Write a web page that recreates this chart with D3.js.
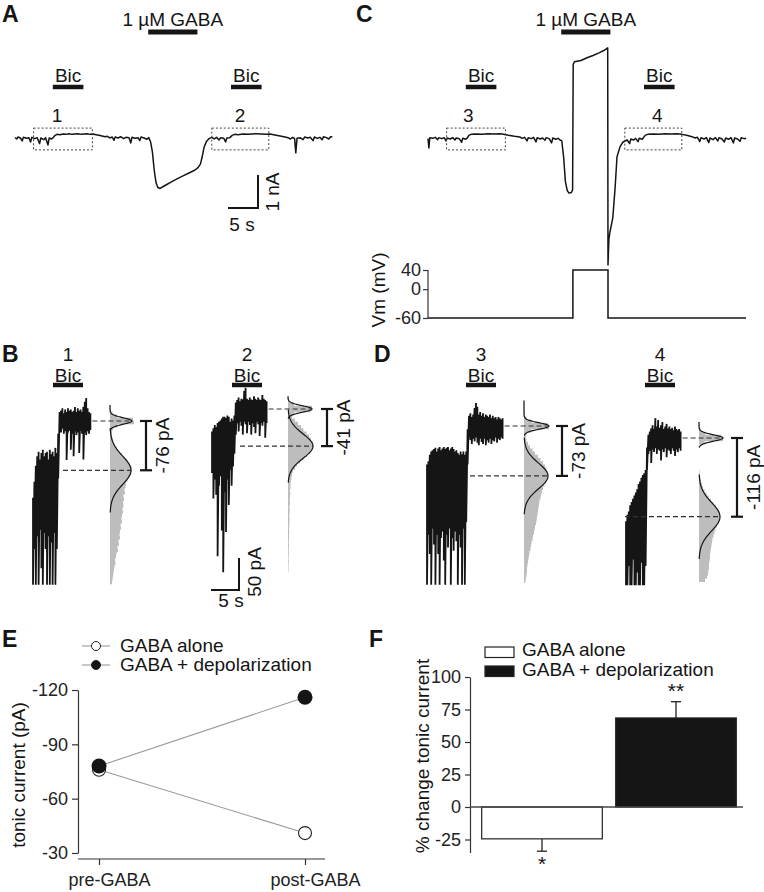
<!DOCTYPE html>
<html>
<head>
<meta charset="utf-8">
<script src="https://cdn.jsdelivr.net/npm/d3@7/dist/d3.min.js"></script>
<style>
  body { margin: 0; background: #fff; }
  svg { font-family: "Liberation Sans", Arial, sans-serif; }
  .axis path, .axis line { stroke: #333; stroke-width: 1.2; }
  .axis text { font-size: 18px; fill: #222; font-family: "Liberation Sans", Arial, sans-serif; }
</style>
</head>
<body>
<svg width="764" height="892"></svg>
<script>
// ---------- data ----------
const stimLabel = "1 µM GABA"
const gabaWindow = [22.2, 30.4]                 // s
const bicWindows = [[6.3, 11.4], [36, 41.1]]    // s
const boxWindows = [[3.1, 12.9], [32.8, 42.3]]  // s
const boxRange = [0.27, -0.39]                  // nA
const epochNames = ['1', '2', '3', '4']
const epochTimes = [[7, 37.5], [6.7, 38.2]]

// A: current (nA) vs time (s), GABA alone
const traceA = [[0,-0.02],[0.3,-0.06],[0.5,0],[0.9,-0.03],[1.2,-0.12],[1.4,-0.01],[1.9,-0.04],[2.3,-0.02],[2.6,-0.15],[2.8,-0.01],
  [3.3,-0.05],[3.7,-0.02],[4.1,-0.2],[4.3,-0.03],[4.8,-0.08],[5.1,-0.02],[5.5,-0.24],[5.7,-0.03],[6.1,-0.06],[6.4,-0.01],
  [6.7,0.05],[7,0.08],[7.5,0.07],[8,0.09],[8.5,0.08],[9,0.1],[9.5,0.08],[10,0.09],[10.5,0.1],[11,0.08],[11.5,0.09],[12,0.1],
  [12.5,0.08],[13,0.09],[13.5,0.07],[14,0.05],[14.5,0.03],[15,0.01],[15.4,0.02],[15.8,-0.03],[16.2,0],[16.5,-0.1],[16.7,0],
  [17.2,-0.03],[17.6,0.01],[18.1,-0.05],[18.5,-0.01],[19,-0.02],[19.3,-0.18],[19.5,-0.01],[20,-0.04],[20.5,-0.02],[20.8,-0.11],
  [21,0],[21.5,-0.03],[22,-0.07],[22.3,-0.02],[22.6,-0.15],[22.9,-0.45],[23.2,-1],[23.5,-1.38],[23.8,-1.53],[24.2,-1.56],
  [24.7,-1.5],[25.3,-1.44],[26,-1.37],[27,-1.27],[28,-1.18],[29,-1.09],[30,-1],[30.5,-0.93],[30.9,-0.82],[31.2,-0.6],
  [31.5,-0.32],[31.9,-0.14],[32.4,-0.04],[32.8,-0.01],[33.2,-0.06],[33.6,-0.01],[34,-0.09],[34.3,-0.02],[34.8,-0.04],
  [35.1,-0.15],[35.3,-0.03],[35.8,-0.02],[36.2,0.05],[36.6,0.08],[37.2,0.07],[38,0.09],[39,0.08],[40,0.1],[41,0.09],[42,0.08],
  [42.5,0.09],[43.3,0.06],[44.2,0.03],[45,0],[45.5,-0.02],[45.9,-0.06],[46.3,-0.01],[46.6,-0.05],[46.8,-0.48],[47,-0.04],
  [47.5,-0.02],[48,-0.08],[48.3,0],[48.8,-0.03],[49.2,-0.01],[49.7,-0.11],[49.9,0],[50.4,-0.04],[50.8,-0.01],[51.2,-0.08],
  [51.4,0.01],[51.9,-0.02],[52.3,-0.06],[52.6,0.01],[52.9,0.01]]

// C: current (nA) vs time (s), GABA + depolarization
const traceC = [[0,-0.05],[0.15,-0.33],[0.3,-0.02],[0.8,-0.04],[1.2,-0.01],[1.6,-0.08],[1.8,-0.02],[2.3,-0.05],[2.7,-0.02],
  [3,-0.12],[3.2,-0.03],[3.7,-0.06],[4.1,-0.02],[4.5,-0.09],[4.7,-0.03],[5.2,-0.05],[5.6,-0.16],[5.8,-0.04],[6.3,-0.07],
  [6.6,-0.02],[6.8,0.05],[7.2,0.08],[8,0.09],[9,0.08],[10,0.1],[11,0.09],[12,0.1],[12.6,0.08],[13.4,0.05],[14.4,0.02],
  [15.3,0],[15.7,-0.04],[16.1,-0.01],[16.5,-0.12],[16.7,-0.02],[17.2,-0.05],[17.6,-0.01],[18,-0.15],[18.2,-0.02],[18.7,-0.06],
  [19.1,-0.03],[19.5,-0.1],[19.7,-0.02],[20.2,-0.05],[20.6,-0.18],[20.8,-0.03],[21.3,-0.07],[21.7,-0.04],[22,-0.09],
  [22.3,-0.12],[22.6,-0.6],[22.9,-1.35],[23.2,-1.62],[23.5,-1.7],[23.9,-1.68],[24.1,-1.6],[24.2,2.2],[24.4,2.28],[25.5,2.32],
  [26.5,2.4],[27.5,2.47],[28.5,2.55],[29.3,2.62],[29.95,2.7],[30,-3.88],[30.15,-3.1],[30.3,-2.9],[30.8,-2.45],[31.2,-1.5],
  [31.5,-0.6],[32,-0.3],[32.5,-0.15],[33.2,-0.09],[33.6,-0.2],[33.8,-0.06],[34.3,-0.09],[34.6,-0.04],[35,-0.14],[35.2,-0.04],
  [35.7,-0.07],[36.2,0.05],[36.6,0.08],[37.5,0.09],[38.5,0.08],[39.5,0.1],[40.5,0.09],[41.5,0.1],[42.3,0.08],[43.1,0.05],
  [44,0.01],[44.5,-0.03],[44.9,-0.01],[45.3,-0.14],[45.5,-0.02],[46,-0.06],[46.4,-0.02],[46.8,-0.17],[47,-0.03],[47.5,-0.08],
  [47.9,-0.02],[48.3,-0.12],[48.5,-0.02],[49,-0.06],[49.4,-0.15],[49.6,-0.03],[50.1,-0.07],[50.5,-0.02],[50.9,-0.18],
  [51.1,-0.03],[51.6,-0.06],[52,-0.13],[52.2,-0.02],[52.7,-0.05],[53,-0.04]]

const vmStep = [[0,-60],[24.15,-60],[24.15,40],[30,40],[30,-60],[53,-60]]
const vmTicks = [40, 0, -60]

// B/D: min/max envelope (pA, relative to Bic level), one pair every 0.25 s
const sampleDt = 0.25
const envB1 = [[-256,-120],[-200,-95],[-256,-70],[-180,-55],[-256,-48],[-170,-60],[-230,-50],[-256,-45],[-175,-55],[-200,-50],
  [-256,-48],[-180,-60],[-256,-45],[-190,-52],[-256,-48],[-175,-55],[-256,-42],[-200,-50],[-90,-20],
  [-14,14],[-18,16],[-12,20],[-20,12],[-16,18],[-61,14],[-18,20],[-15,16],[-45,18],[-20,14],[-55,16],[-16,22],[-22,14],
  [-18,20],[-50,16],[-15,18],[-20,14],[-60,22],[-18,30],[-22,36],[-16,20],[-20,14],[-14,12]]
const envB2 = [[-100,-35],[-140,-30],[-110,-25],[-134,-28],[-230,-22],[-120,-20],[-105,-18],[-190,-15],[-255,-12],[-130,-12],
  [-192,-14],[-110,-10],[-150,-12],[-95,-20],[-120,-15],[-90,-18],[-70,-10],[-40,10],
  [-22,14],[-35,18],[-20,12],[-26,16],[-40,15],[-20,28],[-24,33],[-38,16],[-20,14],[-25,18],[-40,15],[-22,14],[-28,20],
  [-38,16],[-20,14],[-24,18],[-42,15],[-22,14],[-26,22],[-20,16],[-45,14],[-22,12]]
const envD3 = [[-248,-60],[-170,-55],[-200,-45],[-248,-40],[-160,-38],[-185,-36],[-248,-34],[-170,-40],[-200,-35],[-248,-33],
  [-175,-38],[-165,-35],[-210,-33],[-248,-36],[-170,-34],[-190,-33],[-160,-38],[-248,-35],[-175,-33],[-195,-36],[-165,-40],
  [-180,-38],[-248,-42],[-170,-45],[-190,-40],[-248,-44],[-160,-40],[-248,-45],[-150,-40],[-60,-5],
  [-18,16],[-22,20],[-28,14],[-20,18],[-24,28],[-18,36],[-26,30],[-30,18],[-20,22],[-25,16],[-28,20],[-20,14],[-30,18],
  [-22,16],[-26,14],[-20,18],[-28,12],[-22,16],[-24,12],[-18,14],[-26,10],[-20,14],[-22,12],[-18,10],[-20,12]]
const envD4 = [[-230,-130],[-230,-120],[-200,-115],[-230,-105],[-230,-100],[-190,-95],[-230,-90],[-230,-85],[-210,-80],
  [-230,-72],[-230,-68],[-195,-62],[-230,-58],[-230,-55],[-200,-50],[-50,-15],[-25,5],
  [-20,10],[-39,15],[-18,20],[-22,14],[-16,31],[-25,18],[-18,28],[-20,16],[-35,20],[-18,25],[-22,14],[-16,18],[-30,22],
  [-18,15],[-20,18],[-25,14],[-16,16],[-20,12],[-28,18],[-18,14],[-22,12],[-16,14],[-20,10]]

// all-points histograms, 5 pA bins, counts starting at the top bin
const binWidth = 5
const histTop = [22.5, 17.5, 37.5, 22.5]
const histB1 = [2,4,10,28,92,96,30,12,8,8,10,14,20,28,36,48,58,70,78,86,88,84,76,70,64,62,58,60,54,56,52,54,50,52,48,46,
  48,42,44,40,38,40,34,36,30,32,26,24,20,22,18,16,14,12,10,8]
const histB2 = [2,6,24,96,90,24,16,28,40,52,62,74,84,92,98,100,96,88,76,62,48,36,28,20,16,14,12,10,10,8,9,8,7,8,6,7,6,5,
  6,5,5,4,5,4,4,3,4,3,3,3,2,3,2,2,2]
const histD3 = [1,2,2,3,4,10,30,96,100,30,10,8,10,16,24,34,44,56,66,76,84,90,94,96,92,88,82,76,72,68,66,62,60,58,56,54,52,
  50,48,44,42,40,36,34,30,28,26,22,20,18,16,14,12,12,10,8,6]
const histD4 = [2,4,8,24,90,96,22,0,0,0,0,0,0,0,0,2,4,6,8,12,16,22,30,38,48,58,68,76,82,84,82,78,72,66,62,58,54,52,50,48,
  46,44,44,42,40,40,38,36,32,24]

// gaussian fits: [Bic peak, control peak]
const fitMean = [[0,-77],[0,-58],[0,-78],[0,-123]]
const fitSd = [[5,22],[5,19],[5,20],[5,22]]
const fitPeak = [[88,84],[96,100],[100,96],[96,84]]
const tonicLabels = ['-76 pA', '-41 pA', '-73 pA', '-116 pA']

// E
const groupsE = ['pre-GABA', 'post-GABA']
const seriesE = ['GABA alone', 'GABA + depolarization']
const gabaAlone = [-76, -41]
const gabaDepol = [-78, -116]
const ticksE = [-120, -90, -60, -30]

// F
const groupsF = ['GABA alone', 'GABA + depolarization']
const changeF = [-24.5, 68.5]
const semF = [9.5, 12.5]
const starsF = ['*', '**']
const ticksF = [-25, 0, 25, 50, 75, 100]

// ---------- drawing ----------
let svg = d3.select('svg')
svg.append('rect').attr('width', 764).attr('height', 892).attr('fill', '#fff')
const ink = '#151515'
const fs = 19

function txt(x, y, s, o = {}) {
  return svg.append('text').attr('x', x).attr('y', y)
    .attr('text-anchor', o.anchor || 'middle')
    .attr('font-size', o.size || fs)
    .attr('font-weight', o.weight || 'normal')
    .attr('fill', ink).text(s)
}
function vtxt(x, y, s, size) {
  return svg.append('text').attr('transform', `translate(${x},${y}) rotate(-90)`)
    .attr('text-anchor', 'middle').attr('font-size', size || fs).attr('fill', ink).text(s)
}
function seg(x1, y1, x2, y2, w, col) {
  return svg.append('line').attr('x1', x1).attr('y1', y1).attr('x2', x2).attr('y2', y2)
    .attr('stroke', col || ink).attr('stroke-width', w || 1.2)
}

// panel letters
;[['A', 2, 22], ['C', 356, 22], ['B', 2, 362], ['D', 374, 362], ['E', 2, 647], ['F', 369, 647]]
  .forEach(p => txt(p[1], p[2], p[0], { anchor: 'start', size: 23, weight: 'bold' }))

// ----- A and C -----
const yCur = d3.scaleLinear().domain([0, -1]).range([137, 170])
function drawRun(x0, trace, names, times) {
  let x = d3.scaleLinear().domain([0, 53]).range([x0, x0 + 318])
  svg.append('path')
     .attr('d', d3.line().x(d => x(d[0])).y(d => yCur(d[1]))(trace))
     .attr('fill', 'none').attr('stroke', ink).attr('stroke-width', 1.5)
     .attr('stroke-linejoin', 'round')
  seg(x(gabaWindow[0]), 32, x(gabaWindow[1]), 32, 5)
  txt((x(gabaWindow[0]) + x(gabaWindow[1])) / 2, 26, stimLabel)
  bicWindows.forEach(w => {
    seg(x(w[0]), 87, x(w[1]), 87, 4.5)
    txt((x(w[0]) + x(w[1])) / 2, 82, 'Bic')
  })
  boxWindows.forEach((w, i) => {
    svg.append('rect').attr('x', x(w[0])).attr('y', yCur(boxRange[0]))
       .attr('width', x(w[1]) - x(w[0])).attr('height', yCur(boxRange[1]) - yCur(boxRange[0]))
       .attr('fill', 'none').attr('stroke', '#444').attr('stroke-width', 1).attr('stroke-dasharray', '2,2')
    txt(x(times[i]), 122, names[i])
  })
  return x
}
let xA = drawRun(15, traceA, epochNames.slice(0, 2), epochTimes[0])
let xC = drawRun(428, traceC, epochNames.slice(2, 4), epochTimes[1])

// A scale bar: 5 s, 1 nA (corner at 40.5 s)
{
  let cx = xA(40.5), cy = 208
  seg(cx - (xA(5) - xA(0)), cy, cx + 1, cy, 2)
  seg(cx, cy + 1, cx, cy - (yCur(-1) - yCur(0)), 2)
  vtxt(279, 192, '1 nA')
  txt(242, 231, '5 s')
}

// C voltage command
const yVm = d3.scaleLinear().domain([-60, 40]).range([318, 270])
svg.append('path')
   .attr('d', d3.line().x(d => xC(d[0])).y(d => yVm(d[1]))(vmStep))
   .attr('fill', 'none').attr('stroke', ink).attr('stroke-width', 1.5)
svg.append('g').attr('class', 'axis').attr('transform', 'translate(428,0)')
   .call(d3.axisLeft(yVm).tickValues(vmTicks).tickSize(5).tickSizeOuter(0).tickPadding(2).tickFormat(d => String(d)))
   .call(g => g.selectAll('text').attr('font-size', fs))
   .call(g => g.select('.domain').attr('d', `M0,${yVm(40)}V${yVm(-60)}`))
vtxt(385, 290, 'Vm (mV)')

// ----- B and D -----
const envs = [envB1, envB2, envD3, envD4]
const hists = [histB1, histB2, histD3, histD4]
const layoutBD = [
  { x0: 33, y0: 421, hx: 110, bic: 68, lowX: 63, brX: 146 },
  { x0: 212, y0: 409, hx: 288, bic: 247, lowX: 240, brX: 327 },
  { x0: 427, y0: 426, hx: 524, bic: 481, lowX: 470, brX: 562 },
  { x0: 626, y0: 438, hx: 699, bic: 660, lowX: 625, brX: 737 }
]
const hs = d3.scaleLinear().domain([0, 100]).range([0, 25])
const gauss = (v, m, s, p) => p * Math.exp(-((v - m) ** 2) / (2 * s * s))
let scaleB = null

layoutBD.forEach((p, k) => {
  let xs = d3.scaleLinear().domain([0, 5]).range([p.x0, p.x0 + 28])
  let ys = d3.scaleLinear().domain([0, -50]).range([p.y0, p.y0 + 32])
  if (k === 1) scaleB = { xs, ys }

  // histogram as one stepped area
  let bins = hists[k].map((c, i) => [histTop[k] - i * binWidth + binWidth / 2, c])
  bins.push([bins[bins.length - 1][0] - binWidth, hists[k][hists[k].length - 1]])
  svg.append('path')
     .attr('d', d3.area().curve(d3.curveStepBefore)
        .y(d => ys(d[0])).x0(p.hx).x1(d => p.hx + hs(d[1]))(bins))
     .attr('fill', '#bdbdbd')

  // gaussian fits
  fitMean[k].forEach((m, j) => {
    let s = fitSd[k][j]
    let from = j === 0 ? histTop[k] + binWidth / 2 : m + 3 * s
    let to = m - 3 * s
    let pts = d3.range(from, to - 0.01, -(from - to) / 60).concat([to])
    svg.append('path')
       .attr('d', d3.line().x(v => p.hx + hs(gauss(v, m, s, fitPeak[k][j]))).y(v => ys(v))(pts))
       .attr('fill', 'none').attr('stroke', ink).attr('stroke-width', 1.2)
  })

  // trace envelope
  let pts = envs[k].flatMap((d, i) => [[i * sampleDt, d[1]], [i * sampleDt, d[0]]])
  svg.append('path')
     .attr('d', d3.line().x(d => xs(d[0])).y(d => ys(d[1]))(pts))
     .attr('fill', 'none').attr('stroke', ink).attr('stroke-width', 1.8)
     .attr('stroke-linejoin', 'bevel')

  // dashed level lines
  let tEnd = (envs[k].length - 1) * sampleDt
  let m0 = fitMean[k][0], m1 = fitMean[k][1]
  seg(xs(tEnd) + 2, ys(m0), p.hx + hs(fitPeak[k][0]), ys(m0), 1.2, '#333').attr('stroke-dasharray', '5,3')
  seg(p.lowX, ys(m1), p.hx + hs(fitPeak[k][1]), ys(m1), 1.2, '#333').attr('stroke-dasharray', '5,3')

  // bracket + label
  seg(p.brX, ys(m0), p.brX, ys(m1), 2.2)
  seg(p.brX - 6, ys(m0), p.brX + 6, ys(m0), 2.2)
  seg(p.brX - 6, ys(m1), p.brX + 6, ys(m1), 2.2)
  vtxt(p.brX + 23, (ys(m0) + ys(m1)) / 2, tonicLabels[k])

  // Bic bar + epoch number
  seg(p.bic - 15, 385, p.bic + 15, 385, 4.5)
  txt(p.bic, 382, 'Bic')
  txt(p.bic, 361, epochNames[k])
})

// B scale bar: 5 s, 50 pA
{
  let { xs, ys } = scaleB
  let cx = 239, cy = 590
  seg(cx - (xs(5) - xs(0)), cy, cx + 1, cy, 2)
  seg(cx, cy, cx, cy - (ys(-50) - ys(0)), 2)
  vtxt(261, 572, '50 pA')
  txt(231, 607, '5 s')
}

// ----- E -----
const xE = d3.scalePoint().domain(groupsE).range([99, 305])
const yE = d3.scaleLinear().domain([-120, -30]).range([690, 853])
svg.append('g').attr('class', 'axis').attr('transform', 'translate(78,0)')
   .call(d3.axisLeft(yE).tickValues(ticksE).tickSize(6).tickSizeOuter(0).tickPadding(4).tickFormat(d => String(d)))
svg.append('g').attr('class', 'axis').attr('transform', 'translate(0,859)')
   .call(d3.axisBottom(xE).tickSize(6).tickSizeOuter(0).tickPadding(8))
   .call(g => g.select('.domain').attr('d', 'M78,0H325'))
   .call(g => g.selectAll('text').attr('dx', 10).attr('font-size', fs))
vtxt(25, 775, 'tonic current (pA)')

const linE = d3.line().x((d, i) => xE(groupsE[i])).y(d => yE(d))
;[gabaAlone, gabaDepol].forEach(s => {
  svg.append('path').attr('d', linE(s)).attr('fill', 'none').attr('stroke', '#999').attr('stroke-width', 1.1)
})
svg.selectAll('.open').data(gabaAlone).enter().append('circle')
   .attr('cx', (d, i) => xE(groupsE[i])).attr('cy', d => yE(d)).attr('r', 6.5)
   .attr('fill', '#fff').attr('stroke', '#222').attr('stroke-width', 1.1)
svg.selectAll('.filled').data(gabaDepol).enter().append('circle')
   .attr('cx', (d, i) => xE(groupsE[i])).attr('cy', d => yE(d)).attr('r', 7.5).attr('fill', ink)

seriesE.forEach((s, i) => {
  let y = 646 + i * 19
  seg(82, y, 110, y, 1.1, '#999')
  svg.append('circle').attr('cx', 96).attr('cy', y).attr('r', 4.5)
     .attr('fill', i ? ink : '#fff').attr('stroke', '#222').attr('stroke-width', 1)
  txt(120, y + 6, s, { anchor: 'start' })
})

// ----- F -----
const xF = d3.scaleBand().domain(groupsF).range([475, 743]).paddingInner(0.1).paddingOuter(0.05)
const yF = d3.scaleLinear().domain([-35, 100]).range([852.5, 677])
svg.append('g').attr('class', 'axis').attr('transform', 'translate(470,0)')
   .call(d3.axisLeft(yF).tickValues(ticksF).tickSize(5).tickSizeOuter(0).tickPadding(4).tickFormat(d => String(d)))
   .call(g => g.selectAll('text').attr('font-size', fs))
vtxt(429, 756, '% change tonic current')

svg.selectAll('.errF').data(changeF).enter().append('g').each(function (v, i) {
  let g = d3.select(this)
  let cx = xF(groupsF[i]) + xF.bandwidth() / 2
  let tip = v + Math.sign(v) * semF[i]
  g.append('line').attr('x1', cx).attr('x2', cx).attr('y1', yF(v)).attr('y2', yF(tip))
   .attr('stroke', '#222').attr('stroke-width', 1.3)
  g.append('line').attr('x1', cx - 5).attr('x2', cx + 5).attr('y1', yF(tip)).attr('y2', yF(tip))
   .attr('stroke', '#222').attr('stroke-width', 1.3)
})
svg.selectAll('.barF').data(changeF).enter().append('rect')
   .attr('x', (d, i) => xF(groupsF[i])).attr('width', xF.bandwidth())
   .attr('y', d => yF(Math.max(0, d))).attr('height', d => Math.abs(yF(d) - yF(0)))
   .attr('fill', (d, i) => i ? ink : '#fff').attr('stroke', '#222').attr('stroke-width', 1.2)
seg(470, yF(0), 743, yF(0), 1.5, '#444')
changeF.forEach((v, i) => {
  let cx = xF(groupsF[i]) + xF.bandwidth() / 2
  let tip = yF(v + Math.sign(v) * semF[i])
  txt(cx, v < 0 ? tip + 20 : tip - 4, starsF[i], { size: 21 })
})
groupsF.forEach((s, i) => {
  let y = 647 + i * 19
  svg.append('rect').attr('x', 485).attr('y', y).attr('width', 29).attr('height', 10.5)
     .attr('fill', i ? ink : '#fff').attr('stroke', '#222').attr('stroke-width', 1.2)
  txt(522, 656 + i * 20, s, { anchor: 'start' })
})
</script>
</body>
</html>
